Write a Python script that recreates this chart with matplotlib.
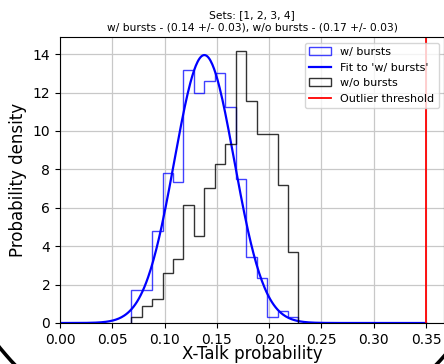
import matplotlib
matplotlib.use('Agg')
import matplotlib.pyplot as plt
from matplotlib.patches import Ellipse
import numpy as np

# histogram bin edges (width 0.01) and densities
edges = np.round(np.arange(0.068, 0.2281, 0.01), 3)
with_bursts = [1.72, 1.72, 4.79, 7.83, 7.34, 13.18, 12.00, 12.62,
               13.00, 11.27, 7.48, 3.42, 2.36, 0.33, 0.64, 0.33]
without_bursts = [0.33, 0.89, 1.25, 2.59, 3.33, 6.15, 4.55, 7.02,
                  8.28, 9.32, 14.18, 11.58, 9.84, 9.84, 7.19, 3.71]

# gaussian fit to 'w/ bursts'
fit_amp = 13.95
fit_mu = 0.138
fit_sigma = 0.0286
threshold = 0.35

title = ("Sets: [1, 2, 3, 4]\n"
         "w/ bursts - (0.14 +/- 0.03), w/o bursts - (0.17 +/- 0.03)")

fig = plt.figure(figsize=(4.44, 3.64), dpi=100)
ax = fig.add_axes([60 / 444, 41 / 364, 384.4 / 444, 286 / 364])

centers = edges[:-1]
ax.hist(centers, bins=edges, weights=with_bursts, histtype='step',
        color='blue', alpha=0.75, lw=1, label='w/ bursts')
xfit = np.linspace(0, threshold, 400)
yfit = fit_amp * np.exp(-0.5 * ((xfit - fit_mu) / fit_sigma) ** 2)
ax.plot(xfit, yfit, color='blue', lw=1.6, label="Fit to 'w/ bursts'")
ax.hist(centers, bins=edges, weights=without_bursts, histtype='step',
        color='black', alpha=0.8, lw=1, label='w/o bursts')
ax.axvline(threshold, color='red', lw=1.3, label='Outlier threshold')

ax.set_xlim(0, 0.3675)
ax.set_ylim(0, 14.89)
ax.set_xticks(np.arange(0, 0.351, 0.05))
ax.set_yticks(np.arange(0, 15, 2))
ax.tick_params(labelsize=10)
ax.grid(True, color='#c8c8c8', lw=0.9)
ax.set_axisbelow(True)

ax.set_xlabel('X-Talk probability', fontsize=12, labelpad=-1)
ax.set_ylabel('Probability density', fontsize=12)
ax.set_title(title, fontsize=7.7, pad=5)
ax.legend(loc='upper right', fontsize=8)

# dark rounded frame showing at the bottom corners
fig.add_artist(Ellipse((225.5 / 444, 264 / 364), 622 / 444, 720 / 364,
                       transform=fig.transFigure, fill=False,
                       edgecolor='black', lw=2.6))

fig.savefig('out.png', dpi=100)
